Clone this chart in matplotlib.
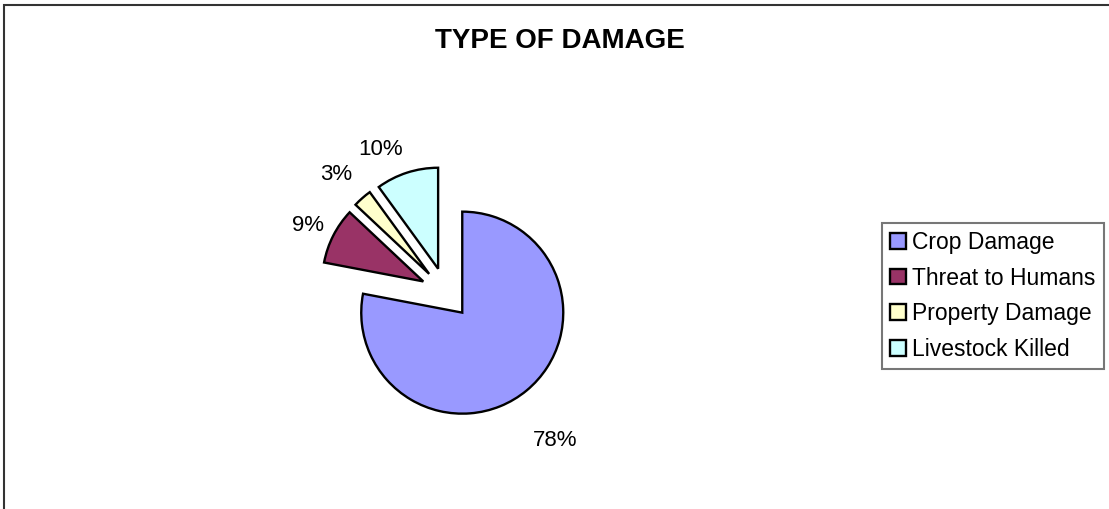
import numpy as np
import matplotlib.pyplot as plt
from matplotlib.patches import Rectangle

plt.rcParams["font.family"] = ["Liberation Sans", "DejaVu Sans"]

categories = ["Crop Damage", "Threat to Humans", "Property Damage", "Livestock Killed"]
shares = [78, 9, 3, 10]
colors = ["#9999FF", "#993366", "#FFFFCC", "#CCFFFF"]

W, H = 1109, 509
fig = plt.figure(figsize=(W / 100, H / 100), dpi=100)
ax = fig.add_axes([0, 0, 1, 1])

radius = 101
wedges, _ = ax.pie(
    shares,
    colors=colors,
    startangle=90,
    counterclock=False,
    center=(446, H - 293),
    radius=radius,
    explode=[25.5] * len(shares),
    wedgeprops=dict(edgecolor="black", linewidth=1.7),
)
ax.set_xlim(0, W)
ax.set_ylim(0, H)
ax.set_aspect("equal")
ax.axis("off")

# percentage labels outside each slice (distance in radii, angle nudge in degrees)
label_dist = [1.566, 1.266, 1.35, 1.311]
label_turn = [-3.6, 1.0, 1.8, 8.0]
for w, v, d, t in zip(wedges, shares, label_dist, label_turn):
    th = np.deg2rad((w.theta1 + w.theta2) / 2 + t)
    cx, cy = w.center
    ax.text(cx + d * radius * np.cos(th), cy + d * radius * np.sin(th), f"{v}%",
            ha="center", va="center", fontsize=16)

fig.text(560 / W, 1 - 41 / H, "TYPE OF DAMAGE", ha="center", va="center",
         fontsize=20, fontweight="bold")

leg = fig.legend(wedges, categories, loc="upper left",
                 bbox_to_anchor=(882 / W, 1 - 223 / H), bbox_transform=fig.transFigure,
                 borderaxespad=0, fontsize=16.5, frameon=True, fancybox=False,
                 handlelength=0.68, handleheight=0.68, handletextpad=0.3,
                 borderpad=0.35, labelspacing=0.55)
leg.get_frame().set_edgecolor("#555555")
leg.get_frame().set_linewidth(1.5)

# chart area border (runs off the right and bottom edges)
fig.patches.append(Rectangle((4 / W, -0.1), 1.2, 1.1 - 5 / H, transform=fig.transFigure,
                             fill=False, edgecolor="#333333", linewidth=1.5))

fig.savefig("out.png", dpi=100)
